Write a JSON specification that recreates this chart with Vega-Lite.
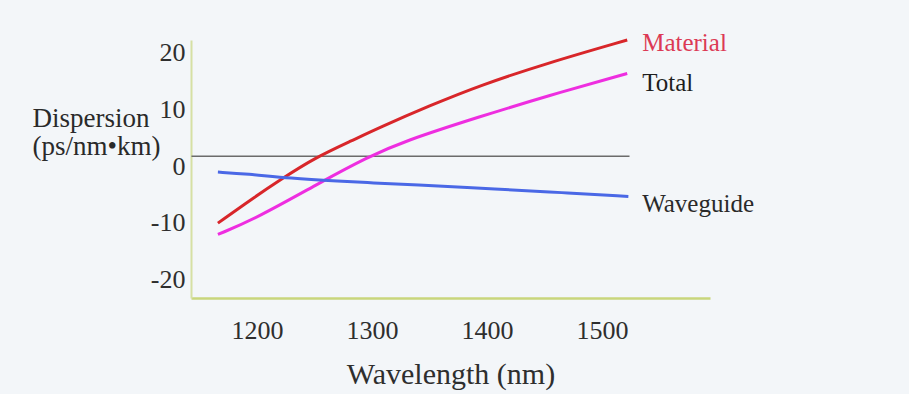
{
  "$schema": "https://vega.github.io/schema/vega-lite/v6.json",
  "width": 519,
  "height": 258,
  "autosize": {"type": "none"},
  "padding": {"left": 191, "top": 40, "right": 199, "bottom": 96},
  "background": "#f3f6f9",
  "config": {
    "view": {"stroke": null},
    "font": "Liberation Serif"
  },
  "datasets": {
    "curves": [
      {"wavelength": 1166, "dispersion": -11.8, "series": "Material"},
      {"wavelength": 1200, "dispersion": -6.9, "series": "Material"},
      {"wavelength": 1220, "dispersion": -4.2, "series": "Material"},
      {"wavelength": 1249, "dispersion": -0.4, "series": "Material"},
      {"wavelength": 1283, "dispersion": 2.8, "series": "Material"},
      {"wavelength": 1307, "dispersion": 5.1, "series": "Material"},
      {"wavelength": 1350, "dispersion": 8.9, "series": "Material"},
      {"wavelength": 1394, "dispersion": 12.5, "series": "Material"},
      {"wavelength": 1452, "dispersion": 16.4, "series": "Material"},
      {"wavelength": 1522, "dispersion": 20.5, "series": "Material"},
      {"wavelength": 1166, "dispersion": -13.8, "series": "Total"},
      {"wavelength": 1200, "dispersion": -10.9, "series": "Total"},
      {"wavelength": 1257, "dispersion": -4.4, "series": "Total"},
      {"wavelength": 1296, "dispersion": -0.2, "series": "Total"},
      {"wavelength": 1327, "dispersion": 2.6, "series": "Total"},
      {"wavelength": 1394, "dispersion": 7.0, "series": "Total"},
      {"wavelength": 1452, "dispersion": 10.6, "series": "Total"},
      {"wavelength": 1522, "dispersion": 14.6, "series": "Total"},
      {"wavelength": 1166, "dispersion": -2.8, "series": "Waveguide"},
      {"wavelength": 1191, "dispersion": -3.1, "series": "Waveguide"},
      {"wavelength": 1229, "dispersion": -3.9, "series": "Waveguide"},
      {"wavelength": 1272, "dispersion": -4.4, "series": "Waveguide"},
      {"wavelength": 1301, "dispersion": -4.7, "series": "Waveguide"},
      {"wavelength": 1333, "dispersion": -5.0, "series": "Waveguide"},
      {"wavelength": 1411, "dispersion": -5.8, "series": "Waveguide"},
      {"wavelength": 1464, "dispersion": -6.4, "series": "Waveguide"},
      {"wavelength": 1523, "dispersion": -7.1, "series": "Waveguide"}
    ],
    "zero": [
      {"start": 1143, "end": 1524, "dispersion": 0}
    ],
    "labels": [
      {"wavelength": 1535, "dispersion": 19.9, "series": "Material"},
      {"wavelength": 1535, "dispersion": 12.9, "series": "Total"},
      {"wavelength": 1535, "dispersion": -8.5, "series": "Waveguide"}
    ]
  },
  "layer": [
    {
      "data": {"name": "zero"},
      "mark": {"type": "rule", "color": "#6b6b6b", "strokeWidth": 1.5},
      "encoding": {
        "x": {"field": "start", "type": "quantitative", "scale": {"domain": [1142.6, 1594]}},
        "x2": {"field": "end"},
        "y": {"field": "dispersion", "type": "quantitative"}
      }
    },
    {
      "data": {"name": "curves"},
      "mark": {"type": "line", "strokeWidth": 3, "interpolate": "basis"},
      "encoding": {
        "x": {
          "field": "wavelength",
          "type": "quantitative",
          "scale": {"domain": [1142.6, 1594], "nice": false, "zero": false},
          "axis": {
            "title": "Wavelength (nm)",
            "values": [1200, 1300, 1400, 1500],
            "labelExpr": "'' + datum.value",
            "grid": false,
            "ticks": false,
            "tickSize": 0,
            "domainColor": "#c9d67c",
            "domainWidth": 2.5,
            "labelFont": "Liberation Serif",
            "labelFontSize": 26,
            "labelColor": "#2e2e2e",
            "labelPadding": 19,
            "titleFont": "Liberation Serif",
            "titleFontSize": 30,
            "titleFontWeight": "normal",
            "titleColor": "#2e2e2e",
            "titleBaseline": "alphabetic",
            "titleY": 85
          }
        },
        "y": {
          "field": "dispersion",
          "type": "quantitative",
          "scale": {"domain": [-25, 20.5], "nice": false, "zero": false},
          "axis": {
            "title": ["Dispersion", "(ps/nm•km)"],
            "values": [-20, -10, 0, 10, 20],
            "labelExpr": "'' + datum.value",
            "grid": false,
            "ticks": false,
            "tickSize": 0,
            "domainColor": "#d6e0a4",
            "domainWidth": 2,
            "labelFont": "Liberation Serif",
            "labelFontSize": 26,
            "labelColor": "#2e2e2e",
            "labelPadding": 6,
            "labelOffset": 10,
            "titleFont": "Liberation Serif",
            "titleFontSize": 27,
            "titleFontWeight": "normal",
            "titleColor": "#2a2a2a",
            "titleAngle": 0,
            "titleAlign": "left",
            "titleBaseline": "alphabetic",
            "titleLineHeight": 28,
            "titleX": -159,
            "titleY": 86
          }
        },
        "color": {
          "field": "series",
          "type": "nominal",
          "scale": {"domain": ["Material", "Total", "Waveguide"], "range": ["#d8262a", "#ee2ee0", "#4a68e6"]},
          "legend": null
        }
      }
    },
    {
      "data": {"name": "labels"},
      "mark": {"type": "text", "align": "left", "baseline": "middle", "font": "Liberation Serif", "fontSize": 25},
      "encoding": {
        "x": {"field": "wavelength", "type": "quantitative"},
        "y": {"field": "dispersion", "type": "quantitative"},
        "text": {"field": "series", "type": "nominal"},
        "color": {
          "field": "series",
          "type": "nominal",
          "scale": {"domain": ["Material", "Total", "Waveguide"], "range": ["#dc3a55", "#1e1e1e", "#2a2a2a"]},
          "legend": null
        }
      }
    }
  ],
  "resolve": {"scale": {"color": "independent"}}
}
